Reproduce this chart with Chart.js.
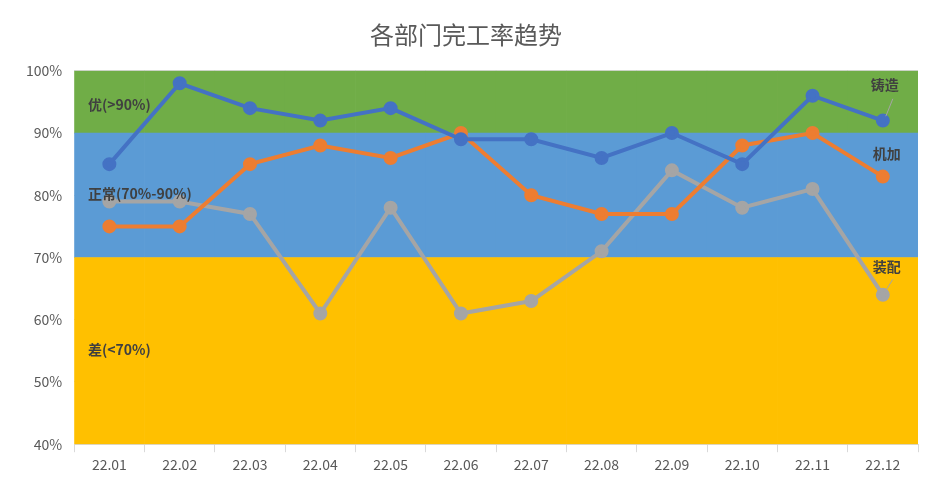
<!DOCTYPE html>
<html><head><meta charset="utf-8">
<script src="https://cdn.jsdelivr.net/npm/chart.js@4"></script>
<style>body{margin:0;background:#fff}#wrap{width:946px;height:481px}</style>
</head><body><div id="wrap"><canvas id="c"></canvas></div>
<script>
const months = ['22.01','22.02','22.03','22.04','22.05','22.06','22.07','22.08','22.09','22.10','22.11','22.12'];
const zhuzao = [85, 98, 94, 92, 94, 89, 89, 86, 90, 85, 96, 92];
const jijia = [75, 75, 85, 88, 86, 90, 80, 77, 77, 88, 90, 83];
const zhuangpei = [79, 79, 77, 61, 78, 61, 63, 71, 84, 78, 81, 64];
const bandPoor = [40, 70];
const bandNormal = [70, 90];
const bandGood = [90, 100];

const font = '"Microsoft YaHei","Noto Sans CJK SC",sans-serif';
const band = (range, color) => ({
    type: 'bar', data: months.map(() => range), backgroundColor: color,
    barPercentage: 1, categoryPercentage: 1, order: 10
});
const line = (label, data, color) => ({
    type: 'line', label, data, borderColor: color, backgroundColor: color,
    borderWidth: 4, pointRadius: 5, pointHoverRadius: 5, order: 1
});

const labelPlugin = {
    id: 'labels',
    afterDatasetsDraw(chart) {
        const { ctx, scales: { x, y } } = chart;
        ctx.save();
        ctx.font = 'bold 14px ' + font;
        ctx.fillStyle = '#404040';
        ctx.textBaseline = 'middle';
        ctx.fillText('优(>90%)', 88, y.getPixelForValue(94.5));
        ctx.fillText('正常(70%-90%)', 88, y.getPixelForValue(80.3));
        ctx.fillText('差(<70%)', 88, y.getPixelForValue(55.2));
        const last = months.length - 1;
        const px = x.getPixelForValue(last);
        ctx.fillText('铸造', px - 12, y.getPixelForValue(97.7));
        ctx.fillText('机加', px - 10, y.getPixelForValue(86.7));
        ctx.fillText('装配', px - 10, y.getPixelForValue(68.5));
        ctx.strokeStyle = '#a5a5a5';
        ctx.lineWidth = 1;
        ctx.beginPath();
        ctx.moveTo(px + 3, y.getPixelForValue(92.7));
        ctx.lineTo(px + 10, y.getPixelForValue(95.5));
        ctx.moveTo(px + 3, y.getPixelForValue(64.7));
        ctx.lineTo(px + 10, y.getPixelForValue(66.5));
        ctx.stroke();
        ctx.restore();
    }
};

new Chart(document.getElementById('c'), {
    data: {
        labels: months,
        datasets: [
            line('铸造', zhuzao, '#4472C4'),
            line('机加', jijia, '#ED7D31'),
            line('装配', zhuangpei, '#A5A5A5'),
            band(bandPoor, '#FFC000'),
            band(bandNormal, '#5B9BD5'),
            band(bandGood, '#70AD47')
        ]
    },
    options: {
        responsive: true, maintainAspectRatio: false, animation: false,
        layout: { padding: { left: 14, right: 28, top: 12, bottom: 4 } },
        plugins: {
            legend: { display: false }, tooltip: { enabled: false },
            title: { display: true, text: '各部门完工率趋势', color: '#595959',
                font: { family: font, size: 24, weight: 'normal' }, padding: { top: 8, bottom: 22 } }
        },
        scales: {
            x: { stacked: true, grid: { display: true, drawOnChartArea: false, offset: true, tickLength: 8, color: '#d9d9d9' },
                border: { color: '#d9d9d9' },
                ticks: { color: '#595959', font: { family: font, size: 14 }, padding: 4 } },
            y: { stacked: false, min: 40, max: 100,
                grid: { color: '#d9d9d9', drawTicks: false }, border: { display: false },
                ticks: { stepSize: 10, color: '#595959', padding: 12, font: { family: font, size: 14 },
                    callback: v => v + '%' } }
        }
    },
    plugins: [labelPlugin]
});
</script></body></html>
